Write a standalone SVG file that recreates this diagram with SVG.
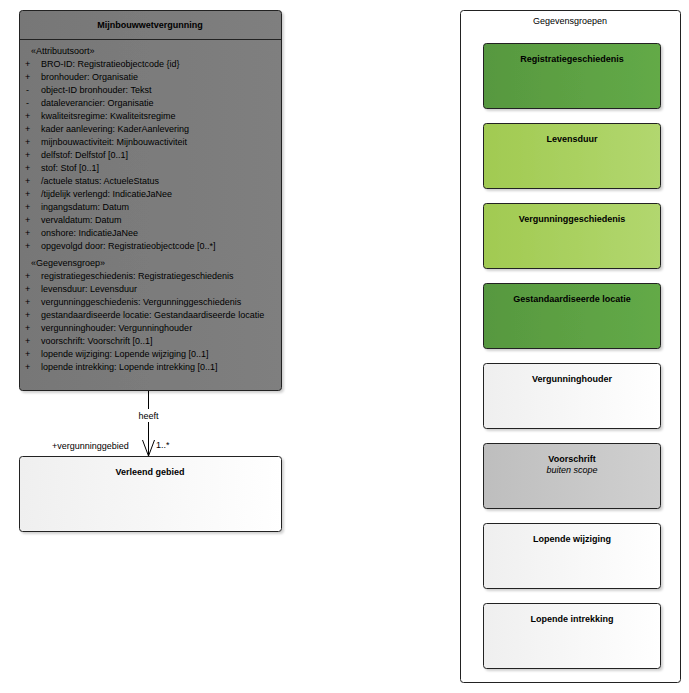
<svg xmlns="http://www.w3.org/2000/svg" width="689" height="693" viewBox="0 0 689 693">
<defs>
<linearGradient id="gDark" x1="0" y1="0" x2="1" y2="0"><stop offset="0" stop-color="#579840"/><stop offset="1" stop-color="#63aa47"/></linearGradient>
<linearGradient id="gLight" x1="0" y1="0" x2="1" y2="0"><stop offset="0" stop-color="#a1ca51"/><stop offset="1" stop-color="#b2d76f"/></linearGradient>
<linearGradient id="gWhite" x1="0" y1="0" x2="1" y2="0"><stop offset="0" stop-color="#efefef"/><stop offset="1" stop-color="#ffffff"/></linearGradient>
<linearGradient id="gGray" x1="0" y1="0" x2="1" y2="0"><stop offset="0" stop-color="#bebebe"/><stop offset="1" stop-color="#d0d0d0"/></linearGradient>
<linearGradient id="gMain" x1="0" y1="0" x2="1" y2="0"><stop offset="0" stop-color="#777777"/><stop offset="1" stop-color="#7f7f7f"/></linearGradient>
<filter id="sh" x="-5%" y="-5%" width="115%" height="115%"><feDropShadow dx="2" dy="2" stdDeviation="1.2" flood-color="#000" flood-opacity="0.18"/></filter>
</defs>
<style>
text{font-family:"Liberation Sans",Arial,sans-serif;font-size:9px;fill:#000}
.b{font-weight:bold}
.c{text-anchor:middle}
.i{font-style:italic}
.box{stroke:#222;stroke-width:1;filter:url(#sh)}
</style>
<rect width="689" height="693" fill="#fff"/>

<g id="Mijnbouwwetvergunning">
<rect class="box" x="19.5" y="10.5" width="262" height="380" rx="3" fill="url(#gMain)"/>
<line x1="19.5" y1="39.5" x2="281.5" y2="39.5" stroke="#222"/>
<text class="b c" x="150" y="28">Mijnbouwwetvergunning</text>
<text x="31" y="54">«Attribuutsoort»</text>
<g>
<text x="25" y="67">+</text><text x="41" y="67">BRO-ID: Registratieobjectcode {id}</text>
<text x="25" y="80">+</text><text x="41" y="80">bronhouder: Organisatie</text>
<text x="26" y="93">-</text><text x="41" y="93">object-ID bronhouder: Tekst</text>
<text x="26" y="106">-</text><text x="41" y="106">dataleverancier: Organisatie</text>
<text x="25" y="119">+</text><text x="41" y="119">kwaliteitsregime: Kwaliteitsregime</text>
<text x="25" y="132">+</text><text x="41" y="132">kader aanlevering: KaderAanlevering</text>
<text x="25" y="145">+</text><text x="41" y="145">mijnbouwactiviteit: Mijnbouwactiviteit</text>
<text x="25" y="158">+</text><text x="41" y="158">delfstof: Delfstof [0..1]</text>
<text x="25" y="171">+</text><text x="41" y="171">stof: Stof [0..1]</text>
<text x="25" y="184">+</text><text x="41" y="184">/actuele status: ActueleStatus</text>
<text x="25" y="197">+</text><text x="41" y="197">/tijdelijk verlengd: IndicatieJaNee</text>
<text x="25" y="210">+</text><text x="41" y="210">ingangsdatum: Datum</text>
<text x="25" y="223">+</text><text x="41" y="223">vervaldatum: Datum</text>
<text x="25" y="236">+</text><text x="41" y="236">onshore: IndicatieJaNee</text>
<text x="25" y="249">+</text><text x="41" y="249">opgevolgd door: Registratieobjectcode [0..*]</text>
</g>
<text x="31" y="266">«Gegevensgroep»</text>
<g>
<text x="25" y="279">+</text><text x="41" y="279">registratiegeschiedenis: Registratiegeschiedenis</text>
<text x="25" y="292">+</text><text x="41" y="292">levensduur: Levensduur</text>
<text x="25" y="305">+</text><text x="41" y="305">vergunninggeschiedenis: Vergunninggeschiedenis</text>
<text x="25" y="318">+</text><text x="41" y="318">gestandaardiseerde locatie: Gestandaardiseerde locatie</text>
<text x="25" y="331">+</text><text x="41" y="331">vergunninghouder: Vergunninghouder</text>
<text x="25" y="344">+</text><text x="41" y="344">voorschrift: Voorschrift [0..1]</text>
<text x="25" y="357">+</text><text x="41" y="357">lopende wijziging: Lopende wijziging [0..1]</text>
<text x="25" y="370">+</text><text x="41" y="370">lopende intrekking: Lopende intrekking [0..1]</text>
</g>
</g>

<g id="VerleendGebied">
<rect class="box" x="19.5" y="456.5" width="262" height="75" rx="3" fill="url(#gWhite)"/>
<text class="b c" x="150" y="475">Verleend gebied</text>
</g>

<g id="connectors">
<line x1="148.5" y1="391" x2="148.5" y2="456" stroke="#000"/>
<polyline points="142.5,440 148.5,456 154.5,440" fill="none" stroke="#000"/>
<rect x="135" y="409" width="27" height="13" fill="#fff"/>
<text class="c" x="148.5" y="419">heeft</text>
<text x="52" y="449">+vergunninggebied</text>
<text x="156" y="448">1..*</text>
</g>

<g id="Gegevensgroepen">
<rect x="460.5" y="10.5" width="220" height="672" rx="3" fill="#fff" stroke="#222"/>
<text class="c" x="570" y="24">Gegevensgroepen</text>
</g>

<g id="Registratiegeschiedenis">
<rect class="box" x="483.5" y="43.5" width="177" height="65" rx="3" fill="url(#gDark)"/>
<text class="b c" x="572" y="62">Registratiegeschiedenis</text>
</g>
<g id="Levensduur">
<rect class="box" x="483.5" y="123.5" width="177" height="65" rx="3" fill="url(#gLight)"/>
<text class="b c" x="572" y="142">Levensduur</text>
</g>
<g id="Vergunninggeschiedenis">
<rect class="box" x="483.5" y="203.5" width="177" height="65" rx="3" fill="url(#gLight)"/>
<text class="b c" x="572" y="222">Vergunninggeschiedenis</text>
</g>
<g id="GestandaardiseerdeLocatie">
<rect class="box" x="483.5" y="283.5" width="177" height="65" rx="3" fill="url(#gDark)"/>
<text class="b c" x="572" y="302">Gestandaardiseerde locatie</text>
</g>
<g id="Vergunninghouder">
<rect class="box" x="483.5" y="363.5" width="177" height="65" rx="3" fill="url(#gWhite)"/>
<text class="b c" x="572" y="382">Vergunninghouder</text>
</g>
<g id="Voorschrift">
<rect class="box" x="483.5" y="443.5" width="177" height="65" rx="3" fill="url(#gGray)"/>
<text class="b c" x="572" y="462">Voorschrift</text>
<text class="i c" x="572" y="473">buiten scope</text>
</g>
<g id="LopendeWijziging">
<rect class="box" x="483.5" y="523.5" width="177" height="65" rx="3" fill="url(#gWhite)"/>
<text class="b c" x="572" y="542">Lopende wijziging</text>
</g>
<g id="LopendeIntrekking">
<rect class="box" x="483.5" y="603.5" width="177" height="65" rx="3" fill="url(#gWhite)"/>
<text class="b c" x="572" y="622">Lopende intrekking</text>
</g>
</svg>
